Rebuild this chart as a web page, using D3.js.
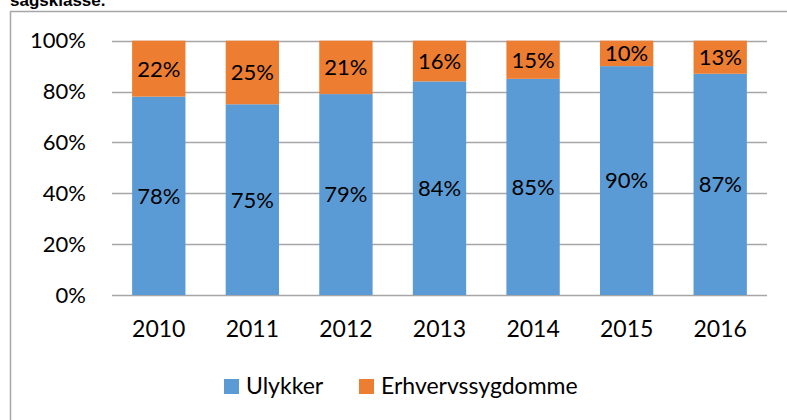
<!DOCTYPE html>
<html><head><meta charset="utf-8">
<script src="https://cdn.jsdelivr.net/npm/d3@7"></script>
<style>body{margin:0;background:#fff}svg{display:block}</style>
</head><body>
<script>
const years = ["2010","2011","2012","2013","2014","2015","2016"];
const ulykker = [78,75,79,84,85,90,87];
const erhverv = [22,25,21,16,15,10,13];
const yTicks = [0,20,40,60,80,100];
const seriesNames = ["Ulykker","Erhvervssygdomme"];
const colors = ["#5b9bd5","#ed7d31"];

const W=787,H=420;
const svg=d3.select("body").append("svg").attr("width",W).attr("height",H);
const font="Lato, 'Open Sans', sans-serif";

svg.append("text").attr("x",10).attr("y",6).attr("font-family","'Liberation Sans', Arial, sans-serif")
  .attr("font-weight","bold").attr("font-size",17).text("sagsklasse.");
svg.append("rect").attr("x",10.5).attr("y",11.5).attr("width",W).attr("height",H)
  .attr("fill","none").attr("stroke","#a6a6a6").attr("stroke-width",1.5);

const x=d3.scaleBand().domain(years).range([112,767]).paddingInner(0.43).paddingOuter(0.215);
const y=d3.scaleLinear().domain([0,100]).range([295,40.7]);

const g=svg.append("g");
g.selectAll(".grid").data(yTicks).join("line")
  .attr("x1",112).attr("x2",767).attr("y1",d=>Math.round(y(d))+0.5).attr("y2",d=>Math.round(y(d))+0.5)
  .attr("stroke","#a6a6a6").attr("stroke-width",1.3);

const data=years.map((yr,i)=>({yr,a:ulykker[i],b:erhverv[i]}));
g.selectAll(".ba").data(data).join("rect")
  .attr("x",d=>x(d.yr)).attr("width",x.bandwidth())
  .attr("y",d=>y(d.a)).attr("height",d=>y(0)-y(d.a)).attr("fill",colors[0]);
g.selectAll(".bb").data(data).join("rect")
  .attr("x",d=>x(d.yr)).attr("width",x.bandwidth())
  .attr("y",d=>y(d.a+d.b)).attr("height",d=>y(d.a)-y(d.a+d.b)).attr("fill",colors[1]);

g.selectAll(".la").data(data).join("text")
  .attr("x",d=>x(d.yr)+x.bandwidth()/2).attr("y",d=>y(d.a/2))
  .attr("dy","0.36em").attr("text-anchor","middle").attr("font-family",font).attr("font-size",22)
  .text(d=>d.a+"%");
g.selectAll(".lb").data(data).join("text")
  .attr("x",d=>x(d.yr)+x.bandwidth()/2).attr("y",d=>y(d.a+d.b/2))
  .attr("dy","0.36em").attr("text-anchor","middle").attr("font-family",font).attr("font-size",22)
  .text(d=>d.b+"%");

const ya=svg.append("g").attr("transform","translate(112,0)")
  .call(d3.axisLeft(y).tickValues(yTicks).tickFormat(d=>d+"%").tickSize(0).tickPadding(26));
ya.select(".domain").remove();
ya.selectAll("text").attr("font-family",font).attr("font-size",22).attr("fill","#000");

const xa=svg.append("g").attr("transform","translate(0,295)")
  .call(d3.axisBottom(x).tickSize(0).tickPadding(26));
xa.select(".domain").remove();
xa.selectAll("text").attr("font-family",font).attr("font-size",23).attr("fill","#000");

const leg=svg.append("g");
const lx=[224,359];
seriesNames.forEach((n,i)=>{
  leg.append("rect").attr("x",lx[i]).attr("y",379).attr("width",15).attr("height",15).attr("fill",colors[i]);
  leg.append("text").attr("x",lx[i]+22).attr("y",394).attr("font-family",font).attr("font-size",23).text(n);
});
</script>
</body></html>
